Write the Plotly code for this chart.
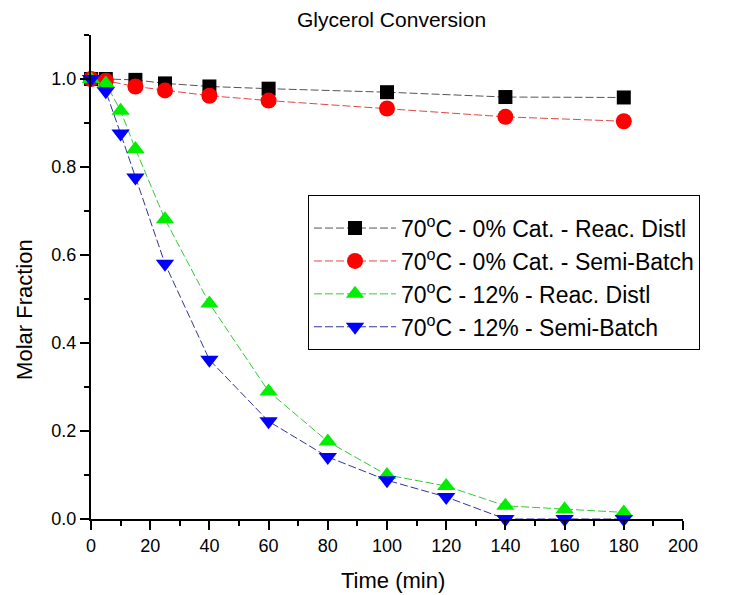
import plotly.graph_objects as go

time_a = [0, 5, 15, 25, 40, 60, 100, 140, 180]
black_sq = [1.0, 1.0, 0.998, 0.99, 0.983, 0.978, 0.970, 0.959, 0.958]
red_circ = [1.0, 0.996, 0.983, 0.974, 0.962, 0.951, 0.933, 0.914, 0.904]

time_b = [0, 5, 10, 15, 25, 40, 60, 80, 100, 120, 140, 160, 180]
green_up = [1.0, 0.99, 0.928, 0.841, 0.681, 0.49, 0.29, 0.176, 0.10, 0.075, 0.03, 0.022, 0.015]
blue_dn = [1.0, 0.972, 0.876, 0.776, 0.58, 0.362, 0.222, 0.141, 0.088, 0.05, 0.0, 0.0, 0.0]

names = ["70<sup>o</sup>C - 0% Cat. - Reac. Distl",
         "70<sup>o</sup>C - 0% Cat. - Semi-Batch",
         "70<sup>o</sup>C - 12% - Reac. Distl",
         "70<sup>o</sup>C - 12% - Semi-Batch"]

FONT = "Liberation Sans, Arial, sans-serif"

fig = go.Figure()
series = [
    (time_a, black_sq, "square", "#000000", "#555555", 14),
    (time_a, red_circ, "circle", "#ff0000", "#e04848", 16),
    (time_b, green_up, "triangle-up", "#00ee00", "#33cc33", 16),
    (time_b, blue_dn, "triangle-down", "#0000ff", "#333399", 16),
]
for i, (x, y, sym, mc, lc, sz) in enumerate(series):
    fig.add_trace(go.Scatter(
        x=x, y=y, mode="lines+markers", name=names[i], legendgroup=str(i),
        line=dict(color=lc, width=1, dash="8px,3px"),
        marker=dict(symbol=sym, color=mc, size=sz, line=dict(width=0)),
        cliponaxis=False,
    ))

axis_font = dict(family=FONT, size=18, color="#000")
fig.update_layout(
    width=722, height=587,
    margin=dict(l=83, r=47, t=27, b=76),
    paper_bgcolor="white", plot_bgcolor="white",
    font=dict(family=FONT, color="#000"),
    showlegend=True,
    legend=dict(x=0.3666, y=0.669, xanchor="left", yanchor="top",
                bordercolor="#000", borderwidth=1, bgcolor="white",
                font=dict(size=23, color="#000", family=FONT), tracegroupgap=0,
                traceorder="grouped", itemwidth=82,
                title=dict(text=" ", font=dict(size=8))),
    xaxis=dict(range=[0, 200], tickvals=list(range(0, 201, 20)), showgrid=False,
               zeroline=False, showline=True, linecolor="#000", linewidth=2,
               ticks="outside", ticklen=9, tickwidth=2, tickcolor="#000",
               minor=dict(dtick=10, ticks="outside", ticklen=5, tickwidth=2, tickcolor="#000"),
               tickfont=axis_font),
    yaxis=dict(range=[0, 1.1], tickvals=[0, 0.2, 0.4, 0.6, 0.8, 1.0], tickformat=".1f",
               showgrid=False, zeroline=False, showline=True, linecolor="#000", linewidth=2,
               ticks="outside", ticklen=9, tickwidth=2, tickcolor="#000",
               minor=dict(dtick=0.1, ticks="outside", ticklen=5, tickwidth=2, tickcolor="#000"),
               tickfont=axis_font),
    annotations=[
        dict(text="Glycerol Conversion", xref="paper", yref="paper", x=0.507, y=1.033,
             xanchor="center", yanchor="middle", showarrow=False,
             font=dict(size=21, family=FONT, color="#000")),
        dict(text="Time (min)", xref="paper", yref="paper", x=0.51, y=-0.128,
             xanchor="center", yanchor="middle", showarrow=False,
             font=dict(size=22, family=FONT, color="#000")),
        dict(text="Molar Fraction", xref="paper", yref="paper", x=0, y=0.432,
             xanchor="center", yanchor="middle", xshift=-66, textangle=-90, showarrow=False,
             font=dict(size=22, family=FONT, color="#000")),
    ],
)

fig.write_html("out.html")
